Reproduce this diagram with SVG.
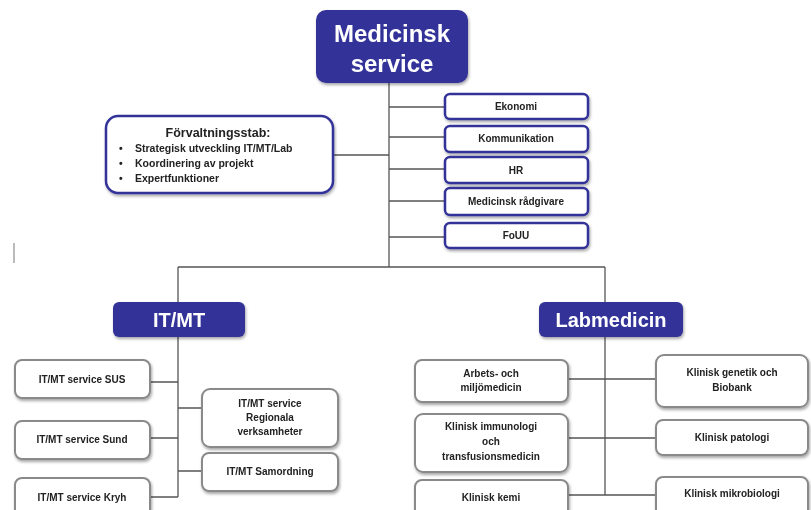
<svg xmlns="http://www.w3.org/2000/svg" width="811" height="510" viewBox="0 0 811 510">
<defs>
<filter id="sh" x="-10%" y="-10%" width="130%" height="140%">
<feGaussianBlur in="SourceAlpha" stdDeviation="1.5"/>
<feOffset dx="1" dy="2" result="b"/>
<feComponentTransfer><feFuncA type="linear" slope="0.35"/></feComponentTransfer>
<feMerge><feMergeNode/><feMergeNode in="SourceGraphic"/></feMerge>
</filter>
</defs>
<style>
.main{fill:#333399;}
.mt{fill:#fff;font-family:"Liberation Sans",Arial,sans-serif;font-weight:bold;text-anchor:middle;}
.bb{fill:#fff;stroke:#333399;stroke-width:2.5;}
.gb{fill:#fff;stroke:#8a8a8a;stroke-width:2;}
.t{fill:#222;font-family:"Liberation Sans",Arial,sans-serif;font-weight:bold;font-size:10px;text-anchor:middle;}
.ln{stroke:#555;stroke-width:1.3;fill:none;}
</style>
<rect x="0" y="0" width="811" height="510" fill="#fff"/>
<line x1="14" y1="243" x2="14" y2="263" stroke="#bbb" stroke-width="2"/>
<g id="connectors" class="ln">
<path d="M389 83 V267"/>
<path d="M389 107 H445 M389 137 H445 M389 169 H445 M389 201 H445 M389 237 H445"/>
<path d="M333 155 H389"/>
<path d="M178 267 H605"/>
<path d="M178 267 V497"/>
<path d="M150 382 H178 M150 438 H178 M150 497 H178"/>
<path d="M178 408 H202 M178 471 H202"/>
<path d="M605 267 V495"/>
<path d="M568 379 H656 M568 438 H656 M568 495 H656"/>
</g>
<g id="medicinsk-service" filter="url(#sh)">
<rect class="main" x="316" y="10" width="152" height="73" rx="10"/>
<text class="mt" x="392" y="42" font-size="24">Medicinsk</text>
<text class="mt" x="392" y="72" font-size="24">service</text>
</g>
<g id="ekonomi" filter="url(#sh)"><rect class="bb" x="445" y="94" width="143" height="25" rx="5"/><text class="t" x="516" y="110">Ekonomi</text></g>
<g id="kommunikation" filter="url(#sh)"><rect class="bb" x="445" y="126" width="143" height="26" rx="5"/><text class="t" x="516" y="142">Kommunikation</text></g>
<g id="hr" filter="url(#sh)"><rect class="bb" x="445" y="157" width="143" height="26" rx="5"/><text class="t" x="516" y="174">HR</text></g>
<g id="medicinsk-radgivare" filter="url(#sh)"><rect class="bb" x="445" y="188" width="143" height="27" rx="5"/><text class="t" x="516" y="205">Medicinsk rådgivare</text></g>
<g id="fouu" filter="url(#sh)"><rect class="bb" x="445" y="223" width="143" height="25" rx="5"/><text class="t" x="516" y="239">FoUU</text></g>
<g id="forvaltningsstab" filter="url(#sh)">
<rect class="bb" x="106" y="116" width="227" height="77" rx="12"/>
<text class="t" x="218" y="137" style="font-size:12.5px">Förvaltningsstab:</text>
<g fill="#222" font-family="'Liberation Sans',Arial,sans-serif" font-weight="bold" font-size="10.5">
<text x="119" y="152">•</text><text x="135" y="152">Strategisk utveckling IT/MT/Lab</text>
<text x="119" y="167">•</text><text x="135" y="167">Koordinering av projekt</text>
<text x="119" y="182">•</text><text x="135" y="182">Expertfunktioner</text>
</g>
</g>
<g id="itmt" filter="url(#sh)">
<rect class="main" x="113" y="302" width="132" height="35" rx="6"/>
<text class="mt" x="179" y="327" font-size="20">IT/MT</text>
</g>
<g id="labmedicin" filter="url(#sh)">
<rect class="main" x="539" y="302" width="144" height="35" rx="6"/>
<text class="mt" x="611" y="327" font-size="20">Labmedicin</text>
</g>
<g id="itmt-sus" filter="url(#sh)"><rect class="gb" x="15" y="360" width="135" height="38" rx="7"/><text class="t" x="82" y="383">IT/MT service SUS</text></g>
<g id="itmt-sund" filter="url(#sh)"><rect class="gb" x="15" y="421" width="135" height="38" rx="7"/><text class="t" x="82" y="443">IT/MT service Sund</text></g>
<g id="itmt-kryh" filter="url(#sh)"><rect class="gb" x="15" y="478" width="135" height="40" rx="7"/><text class="t" x="82" y="501">IT/MT service Kryh</text></g>
<g id="itmt-regionala" filter="url(#sh)"><rect class="gb" x="202" y="389" width="136" height="58" rx="8"/>
<text class="t" x="270" y="407">IT/MT service</text><text class="t" x="270" y="421">Regionala</text><text class="t" x="270" y="435">verksamheter</text></g>
<g id="itmt-samordning" filter="url(#sh)"><rect class="gb" x="202" y="453" width="136" height="38" rx="7"/><text class="t" x="270" y="475">IT/MT Samordning</text></g>
<g id="arbets" filter="url(#sh)"><rect class="gb" x="415" y="360" width="153" height="42" rx="7"/>
<text class="t" x="491" y="377">Arbets- och</text><text class="t" x="491" y="391">miljömedicin</text></g>
<g id="immunologi" filter="url(#sh)"><rect class="gb" x="415" y="414" width="153" height="58" rx="8"/>
<text class="t" x="491" y="430">Klinisk immunologi</text><text class="t" x="491" y="445">och</text><text class="t" x="491" y="460">transfusionsmedicin</text></g>
<g id="kemi" filter="url(#sh)"><rect class="gb" x="415" y="480" width="153" height="40" rx="7"/><text class="t" x="491" y="501">Klinisk kemi</text></g>
<g id="genetik" filter="url(#sh)"><rect class="gb" x="656" y="355" width="152" height="52" rx="8"/>
<text class="t" x="732" y="376">Klinisk genetik och</text><text class="t" x="732" y="391">Biobank</text></g>
<g id="patologi" filter="url(#sh)"><rect class="gb" x="656" y="420" width="152" height="35" rx="7"/><text class="t" x="732" y="441">Klinisk patologi</text></g>
<g id="mikrobiologi" filter="url(#sh)"><rect class="gb" x="656" y="477" width="152" height="40" rx="7"/><text class="t" x="732" y="497">Klinisk mikrobiologi</text></g>
</svg>
